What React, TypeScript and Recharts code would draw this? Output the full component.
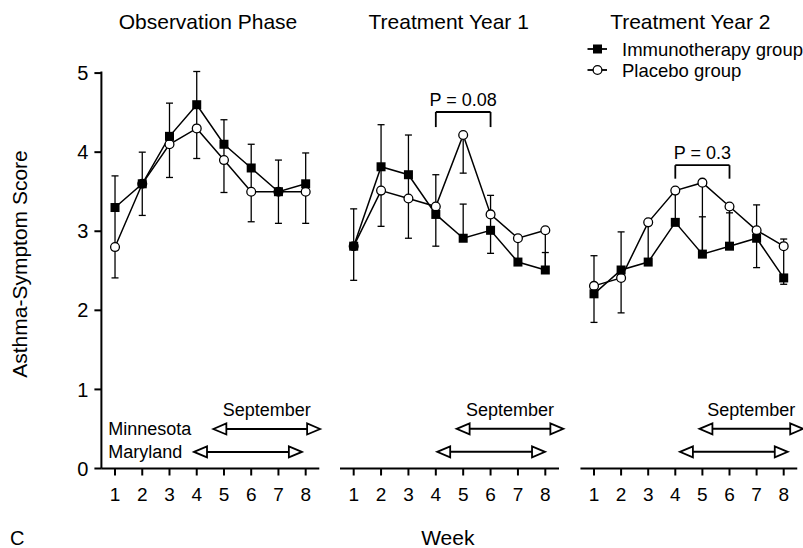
import React from 'react';
import {
  LineChart,
  Line,
  XAxis,
  YAxis,
  ErrorBar,
  ReferenceLine,
  ReferenceDot,
  Legend,
} from 'recharts';

const FONT = '"Liberation Sans", Arial, Helvetica, sans-serif';

// ---------- data ----------
const weeks = [1, 2, 3, 4, 5, 6, 7, 8];
const yTicks = [0, 1, 2, 3, 4, 5];

const panelTitles = ['Observation Phase', 'Treatment Year 1', 'Treatment Year 2'];
const seriesNames = { immuno: 'Immunotherapy group', placebo: 'Placebo group' };
const legendOrder = ['Immunotherapy group', 'Placebo group'];

// Observation phase
const obsImmuno = [3.3, 3.6, 4.2, 4.6, 4.1, 3.8, 3.5, 3.6];
const obsImmunoErrLow = [0, 0, 0, 0, 0, 0, 0, 0];
const obsImmunoErrHigh = [0.4, 0.4, 0.42, 0.42, 0.31, 0.3, 0.4, 0.39];
const obsPlacebo = [2.8, 3.6, 4.1, 4.3, 3.9, 3.5, 3.5, 3.5];
const obsPlaceboErrLow = [0.39, 0.4, 0.42, 0.38, 0.41, 0.38, 0.4, 0.4];
const obsPlaceboErrHigh = [0.5, 0, 0.1, 0.3, 0.2, 0.3, 0, 0.1];

// Treatment year 1
const y1Immuno = [2.8, 3.8, 3.7, 3.2, 2.9, 3.0, 2.6, 2.5];
const y1ImmunoErrLow = [0, 0, 0, 0.4, 0, 0.29, 0, 0];
const y1ImmunoErrHigh = [0.47, 0.53, 0.5, 0, 0.43, 0, 0, 0.22];
const y1Placebo = [2.8, 3.5, 3.4, 3.3, 4.2, 3.2, 2.9, 3.0];
const y1PlaceboErrLow = [0.43, 0.45, 0.5, 0.1, 0.48, 0.2, 0.3, 0.5];
const y1PlaceboErrHigh = [0, 0.3, 0.3, 0.4, 0, 0.24, 0, 0];

// Treatment year 2
const y2Immuno = [2.2, 2.5, 2.6, 3.1, 2.7, 2.8, 2.9, 2.4];
const y2ImmunoErrLow = [0.36, 0, 0, 0, 0, 0, 0, 0.08];
const y2ImmunoErrHigh = [0, 0.48, 0, 0, 0.47, 0.42, 0.42, 0];
const y2Placebo = [2.3, 2.4, 3.1, 3.5, 3.6, 3.3, 3.0, 2.8];
const y2PlaceboErrLow = [0.1, 0.44, 0.5, 0.4, 0.9, 0.5, 0.47, 0.4];
const y2PlaceboErrHigh = [0.38, 0.1, 0, 0, 0, 0, 0, 0.09];

// September arrows (week spans) and their rows (score units)
const minnesotaRowY = 0.5;
const marylandRowY = 0.21;
const obsMinnesota = [4.61, 8.53];
const obsMaryland = [3.9, 7.86];
const y1Minnesota = [4.76, 8.66];
const y1Maryland = [4.05, 7.99];
const y2Minnesota = [4.89, 8.72];
const y2Maryland = [4.17, 8.15];
const stateLabelX = 0.754;

// P-value brackets: [fromWeek, toWeek, top, legBottom]
const y1Bracket = [4, 6, 4.49, 4.3];
const y1BracketLabel = 'P = 0.08';
const y2Bracket = [4, 6, 3.82, 3.65];
const y2BracketLabel = 'P = 0.3';

const buildData = (
  imm: number[], immLo: number[], immHi: number[],
  plc: number[], plcLo: number[], plcHi: number[]
) =>
  weeks.map((w, i) => ({
    week: w,
    immuno: imm[i],
    immunoErr: [immLo[i], immHi[i]],
    placebo: plc[i],
    placeboErr: [plcLo[i], plcHi[i]],
  }));

const obsData = buildData(obsImmuno, obsImmunoErrLow, obsImmunoErrHigh, obsPlacebo, obsPlaceboErrLow, obsPlaceboErrHigh);
const y1Data = buildData(y1Immuno, y1ImmunoErrLow, y1ImmunoErrHigh, y1Placebo, y1PlaceboErrLow, y1PlaceboErrHigh);
const y2Data = buildData(y2Immuno, y2ImmunoErrLow, y2ImmunoErrHigh, y2Placebo, y2PlaceboErrLow, y2PlaceboErrHigh);

// ---------- layout ----------
const W = 803;
const H = 548;
const PLOT_TOP = 71.5;
const PLOT_BOTTOM = 468.5;
const X_AXIS_H = 40;
const Y_AXIS_W = 60;
const panels = [
  { left: 101.4, right: 319.3 },
  { left: 340, right: 559 },
  { left: 580.45, right: 797.25 },
];

// ---------- shapes ----------
const SquareDot = (props: any) => {
  const { cx, cy, index } = props;
  if (cx == null || cy == null) return <g key={`sq-${index}`} />;
  return <rect key={`sq-${index}`} x={cx - 4.5} y={cy - 4.5} width={9} height={9} fill="#000" />;
};

const CircleDot = (props: any) => {
  const { cx, cy, index } = props;
  if (cx == null || cy == null) return <g key={`ci-${index}`} />;
  return <circle key={`ci-${index}`} cx={cx} cy={cy} r={4.4} fill="#fff" stroke="#000" strokeWidth={1.3} />;
};

const DoubleArrow = (props: any) => {
  const x1 = Math.min(Number(props.x1), Number(props.x2));
  const x2 = Math.max(Number(props.x1), Number(props.x2));
  const y = Number(props.y1);
  const L = 13;
  const h = 5.5;
  return (
    <g>
      <line x1={x1 + L} y1={y} x2={x2 - L} y2={y} stroke="#000" strokeWidth={2} />
      <polygon
        points={`${x1},${y} ${x1 + L},${y - h} ${x1 + L},${y + h}`}
        fill="#fff"
        stroke="#000"
        strokeWidth={1.8}
      />
      <polygon
        points={`${x2},${y} ${x2 - L},${y - h} ${x2 - L},${y + h}`}
        fill="#fff"
        stroke="#000"
        strokeWidth={1.8}
      />
    </g>
  );
};

const textStyle = { fill: '#000', fontFamily: FONT };

const renderArrows = (minn: number[], mary: number[], prefix: string) => [
  <ReferenceLine
    key={`${prefix}-minn`}
    segment={[{ x: minn[0], y: minnesotaRowY }, { x: minn[1], y: minnesotaRowY }]}
    ifOverflow="visible"
    shape={DoubleArrow}
    label={{ value: 'September', position: 'top', offset: 13, fontSize: 18, ...textStyle }}
  />,
  <ReferenceLine
    key={`${prefix}-mary`}
    segment={[{ x: mary[0], y: marylandRowY }, { x: mary[1], y: marylandRowY }]}
    ifOverflow="visible"
    shape={DoubleArrow}
  />,
];

const renderBracket = (b: number[], label: string, prefix: string) => [
  <ReferenceLine
    key={`${prefix}-top`}
    segment={[{ x: b[0], y: b[2] }, { x: b[1], y: b[2] }]}
    ifOverflow="visible"
    stroke="#000"
    strokeWidth={1.8}
    label={{ value: label, position: 'top', offset: 6, fontSize: 18, ...textStyle }}
  />,
  <ReferenceLine
    key={`${prefix}-l`}
    segment={[{ x: b[0], y: b[2] }, { x: b[0], y: b[3] }]}
    ifOverflow="visible"
    stroke="#000"
    strokeWidth={1.8}
  />,
  <ReferenceLine
    key={`${prefix}-r`}
    segment={[{ x: b[1], y: b[2] }, { x: b[1], y: b[3] }]}
    ifOverflow="visible"
    stroke="#000"
    strokeWidth={1.8}
  />,
];

const LegendContent = (props: any) => {
  const payload = [...(props.payload || [])].sort(
    (a: any, b: any) => legendOrder.indexOf(a.value) - legendOrder.indexOf(b.value)
  );
  return (
    <div style={{ fontFamily: FONT, fontSize: 18.5, color: '#000', whiteSpace: 'nowrap' }}>
      {payload.map((entry: any) => {
        const isImmuno = entry.value === seriesNames.immuno;
        return (
          <div key={entry.value} style={{ display: 'flex', alignItems: 'center', height: 21, lineHeight: '21px' }}>
            <svg width={21} height={14} style={{ marginRight: 14, overflow: 'visible' }}>
              <line x1={0.5} y1={7} x2={20} y2={7} stroke="#000" strokeWidth={1.8} />
              {isImmuno ? (
                <rect x={6} y={2.5} width={9} height={9} fill="#000" />
              ) : (
                <circle cx={10.5} cy={7} r={4.4} fill="#fff" stroke="#000" strokeWidth={1.3} />
              )}
            </svg>
            <span>{entry.value}</span>
          </div>
        );
      })}
    </div>
  );
};

type PanelProps = {
  data: any[];
  index: number;
  extras: React.ReactNode[];
  legend?: boolean;
};

const Panel = ({ data, index, extras, legend }: PanelProps) => {
  const p = panels[index];
  const showY = index === 0;
  return (
    <div style={{ position: 'absolute', left: 0, top: 0 }}>
      <LineChart
        width={W}
        height={H}
        data={data}
        margin={{
          top: PLOT_TOP,
          bottom: H - PLOT_BOTTOM - X_AXIS_H,
          left: showY ? p.left - Y_AXIS_W : p.left,
          right: W - p.right,
        }}
      >
        <XAxis
          dataKey="week"
          type="number"
          domain={[0.5, 8.5]}
          ticks={weeks}
          allowDataOverflow
          height={X_AXIS_H}
          axisLine={{ stroke: '#000', strokeWidth: 2 }}
          tickLine={{ stroke: '#000', strokeWidth: 2 }}
          tickSize={7}
          tickMargin={12}
          tick={{ fontSize: 19, ...textStyle }}
          interval={0}
        />
        <YAxis
          type="number"
          domain={[0, 5]}
          ticks={yTicks}
          hide={!showY}
          width={Y_AXIS_W}
          axisLine={{ stroke: '#000', strokeWidth: 2 }}
          tickLine={{ stroke: '#000', strokeWidth: 2 }}
          tickSize={7}
          tickMargin={6}
          tick={{ fontSize: 20, ...textStyle }}
          interval={0}
        />
        <Line
          name={seriesNames.placebo}
          dataKey="placebo"
          type="linear"
          stroke="#000"
          strokeWidth={1.5}
          dot={CircleDot}
          activeDot={false}
          isAnimationActive={false}
          legendType="circle"
        >
          <ErrorBar dataKey="placeboErr" direction="y" width={3.5} stroke="#000" strokeWidth={1.3} isAnimationActive={false} />
        </Line>
        <Line
          name={seriesNames.immuno}
          dataKey="immuno"
          type="linear"
          stroke="#000"
          strokeWidth={1.5}
          dot={SquareDot}
          activeDot={false}
          isAnimationActive={false}
          legendType="square"
        >
          <ErrorBar dataKey="immunoErr" direction="y" width={3.5} stroke="#000" strokeWidth={1.3} isAnimationActive={false} />
        </Line>
        {extras}
        {legend ? (
          <Legend
            layout="vertical"
            align="center"
            verticalAlign="middle"
            wrapperStyle={{ left: 587, top: 38.5, width: 216 }}
            content={LegendContent}
          />
        ) : null}
      </LineChart>
    </div>
  );
};

const obsExtras = [
  ...renderArrows(obsMinnesota, obsMaryland, 'obs'),
  <ReferenceDot
    key="lab-minn"
    x={stateLabelX}
    y={minnesotaRowY}
    r={0}
    fill="none"
    stroke="none"
    label={{ value: 'Minnesota', position: 'right', offset: 0, fontSize: 18, ...textStyle }}
  />,
  <ReferenceDot
    key="lab-mary"
    x={stateLabelX}
    y={marylandRowY}
    r={0}
    fill="none"
    stroke="none"
    label={{ value: 'Maryland', position: 'right', offset: 0, fontSize: 18, ...textStyle }}
  />,
];
const y1Extras = [...renderArrows(y1Minnesota, y1Maryland, 'y1'), ...renderBracket(y1Bracket, y1BracketLabel, 'b1')];
const y2Extras = [...renderArrows(y2Minnesota, y2Maryland, 'y2'), ...renderBracket(y2Bracket, y2BracketLabel, 'b2')];

export default function App() {
  return (
    <div
      style={{
        position: 'absolute',
        left: 0,
        top: 0,
        width: W,
        height: H,
        overflow: 'hidden',
        background: '#fff',
      }}
    >
      <Panel data={obsData} index={0} extras={obsExtras} />
      <Panel data={y1Data} index={1} extras={y1Extras} />
      <Panel data={y2Data} index={2} extras={y2Extras} legend />
      <svg
        width={W}
        height={H}
        style={{ position: 'absolute', left: 0, top: 0, pointerEvents: 'none' }}
      >
        {panelTitles.map((t, i) => (
          <text
            key={t}
            x={[208, 448.7, 690.3][i]}
            y={29}
            textAnchor="middle"
            fontSize={21}
            fontFamily={FONT}
            fill="#000"
          >
            {t}
          </text>
        ))}
        <text
          x={26.7}
          y={264}
          transform="rotate(-90 26.7 264)"
          textAnchor="middle"
          fontSize={21}
          fontFamily={FONT}
          fill="#000"
        >
          Asthma-Symptom Score
        </text>
        <text x={447.8} y={545} textAnchor="middle" fontSize={21} fontFamily={FONT} fill="#000">
          Week
        </text>
        <text x={10} y={545} fontSize={20} fontFamily={FONT} fill="#000">
          C
        </text>
      </svg>
    </div>
  );
}
